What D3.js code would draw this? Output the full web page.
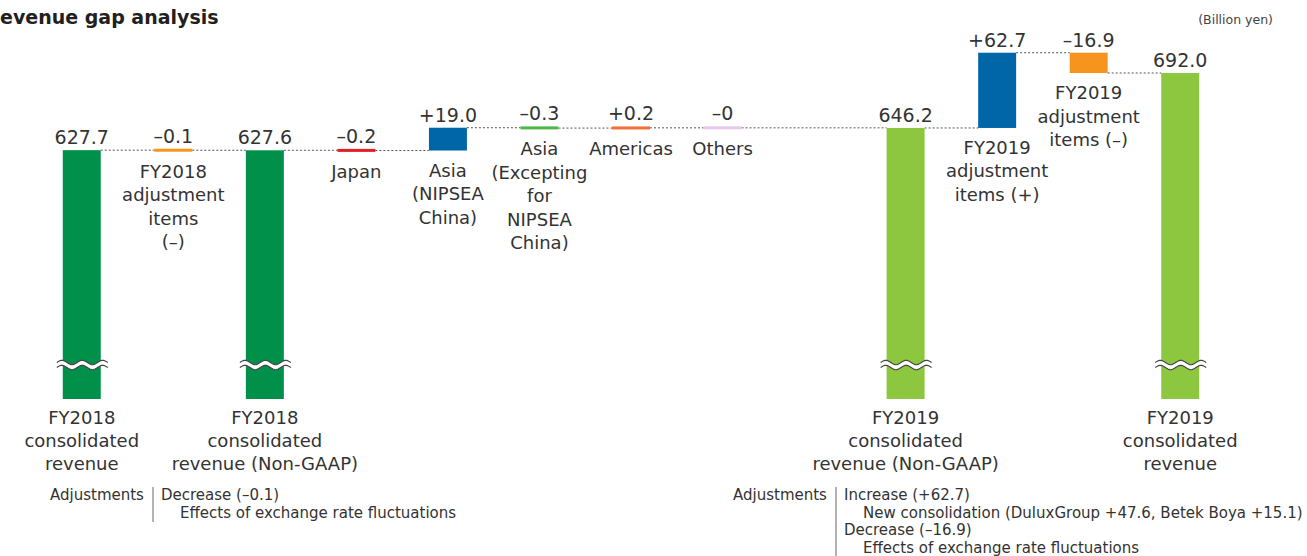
<!DOCTYPE html>
<html>
<head>
<meta charset="utf-8">
<script src="https://cdn.jsdelivr.net/npm/d3@7/dist/d3.min.js"></script>
<style>
  body { margin: 0; background: #fff; }
  svg { display: block; }
  text { font-family: "DejaVu Sans", sans-serif; fill: #333; }
</style>
</head>
<body>
<svg id="chart"></svg>
<script>
// Slots along the x axis (one empty slot before the FY2019 block)
var slots = ["fy18", "adj18", "fy18ng", "japan", "asiaN", "asiaX", "americas", "others",
             "gap", "fy19ng", "adj19p", "adj19m", "fy19"];

// Bars
var barKeys = ["fy18", "adj18", "fy18ng", "japan", "asiaN", "asiaX", "americas", "others",
               "fy19ng", "adj19p", "adj19m", "fy19"];
var barValues = [627.7, -0.1, 627.6, -0.2, 19.0, -0.3, 0.2, -0.0, 646.2, 62.7, -16.9, 692.0];
var barTypes = ["total", "delta", "total", "delta", "delta", "delta", "delta", "delta",
                "total", "delta", "delta", "total"];
var valueLabels = ["627.7", "\u20130.1", "627.6", "\u20130.2", "+19.0", "\u20130.3", "+0.2", "\u20130",
                   "646.2", "+62.7", "\u201316.9", "692.0"];
var categoryLines = [
  ["FY2018", "consolidated", "revenue"],
  ["FY2018", "adjustment", "items", "(\u2013)"],
  ["FY2018", "consolidated", "revenue (Non-GAAP)"],
  ["Japan"],
  ["Asia", "(NIPSEA", "China)"],
  ["Asia", "(Excepting", "for", "NIPSEA", "China)"],
  ["Americas"],
  ["Others"],
  ["FY2019", "consolidated", "revenue (Non-GAAP)"],
  ["FY2019", "adjustment", "items (+)"],
  ["FY2019", "adjustment", "items (\u2013)"],
  ["FY2019", "consolidated", "revenue"]
];
var barColors = ["#00904a", "#f7941d", "#00904a", "#e31e24", "#0066a8", "#4cb848", "#f26f35", "#e6c8e8",
                 "#8dc63f", "#0066a8", "#f7941d", "#8dc63f"];

// Footnotes
var notesLeft = [
  {text: "Decrease (\u20130.1)", indent: 0},
  {text: "Effects of exchange rate fluctuations", indent: 1}
];
var notesRight = [
  {text: "Increase (+62.7)", indent: 0},
  {text: "New consolidation (DuluxGroup +47.6, Betek Boya +15.1)", indent: 1},
  {text: "Decrease (\u201316.9)", indent: 0},
  {text: "Effects of exchange rate fluctuations", indent: 1}
];

var width = 1307, height = 556;
var baseY = 399;     // bottom of the broken total bars
var breakY = 365;    // where the bars are broken

var svg = d3.select("#chart")
    .attr("width", width)
    .attr("height", height);

var x = d3.scaleBand()
    .domain(slots)
    .range([36, 1226])
    .paddingInner(0.585)
    .paddingOuter(0.2925);
var bw = x.bandwidth();

var y = d3.scaleLinear()
    .domain([620, 710])
    .range([159.4, 51.4]);

// Title and unit
svg.append("text")
    .attr("x", 0)
    .attr("y", 24)
    .style("font-weight", "bold")
    .style("font-size", "19px")
    .style("fill", "#231f20")
    .text("evenue gap analysis");

svg.append("text")
    .attr("x", 1273)
    .attr("y", 24)
    .attr("text-anchor", "end")
    .style("font-size", "12.5px")
    .style("fill", "#444")
    .text("(Billion yen)");

// Work out bar geometry (waterfall)
var running = 0;
var bars = barKeys.map(function(k, i) {
  var v = barValues[i], top, bottom, level;
  if (barTypes[i] == "total") {
    top = y(v);
    bottom = baseY;
    level = v;
  } else {
    var start = running, end = running + v;
    top = y(Math.max(start, end));
    bottom = y(Math.min(start, end));
    if (bottom - top < 3) {
      var mid = (top + bottom) / 2;
      top = mid - 1.5;
      bottom = mid + 1.5;
    }
    level = end;
  }
  running = level;
  return {key: k, i: i, top: top, bottom: bottom, level: level};
});

// Dotted connectors
var conn = svg.append("g");
for (var i = 0; i < bars.length - 1; i++) {
  var a = bars[i], b = bars[i + 1];
  conn.append("line")
      .attr("x1", x(a.key) + bw)
      .attr("x2", x(b.key))
      .attr("y1", y(a.level))
      .attr("y2", y(a.level))
      .attr("stroke", "#555")
      .attr("stroke-width", 1)
      .attr("stroke-dasharray", "2,2");
}

// Bars
svg.append("g").selectAll("rect")
    .data(bars)
    .enter()
    .append("rect")
    .attr("x", function(d) { return x(d.key); })
    .attr("y", function(d) { return d.top; })
    .attr("width", bw)
    .attr("height", function(d) { return d.bottom - d.top; })
    .attr("fill", function(d) { return barColors[d.i]; });

// Break marks on the total bars
function wave(x0, x1, y0) {
  var pts = [];
  for (var t = 0; t <= 60; t++) {
    var xx = x0 + (x1 - x0) * t / 60;
    pts.push([xx, y0 - 2.2 * Math.sin((xx - x0) / (x1 - x0) * Math.PI * 5)]);
  }
  return pts;
}
var line = d3.line();
bars.filter(function(d) { return barTypes[d.i] == "total"; }).forEach(function(d) {
  var x0 = x(d.key) - 6, x1 = x(d.key) + bw + 7;
  var upper = wave(x0, x1, breakY - 2.5);
  var lower = wave(x0, x1, breakY + 2.5);
  svg.append("path")
      .attr("d", line(upper.concat(lower.slice().reverse())) + "Z")
      .attr("fill", "#fff");
  svg.append("path").attr("d", line(upper)).attr("fill", "none").attr("stroke", "#444").attr("stroke-width", 1.1);
  svg.append("path").attr("d", line(lower)).attr("fill", "none").attr("stroke", "#444").attr("stroke-width", 1.1);
});

// Value labels
svg.append("g").selectAll("text")
    .data(bars)
    .enter()
    .append("text")
    .attr("x", function(d) { return x(d.key) + bw / 2; })
    .attr("y", function(d) { return d.top - 6; })
    .attr("text-anchor", "middle")
    .style("font-size", "19px")
    .text(function(d) { return valueLabels[d.i]; });

// Category labels
bars.forEach(function(d) {
  var lines = categoryLines[d.i];
  var isTotal = barTypes[d.i] == "total";
  var y0 = isTotal ? 424 : d.bottom + 26;
  var step = isTotal ? 23 : 23.5;
  var t = svg.append("text")
      .attr("text-anchor", "middle")
      .style("font-size", "18px");
  lines.forEach(function(s, j) {
    t.append("tspan")
        .attr("x", x(d.key) + bw / 2)
        .attr("y", y0 + j * step)
        .text(s);
  });
});

// Footnotes
function notes(x0, rows) {
  var g = svg.append("g").style("font-size", "15px");
  g.append("text").attr("x", x0).attr("y", 500).text("Adjustments");
  g.append("line")
      .attr("x1", x0 + 103).attr("x2", x0 + 103)
      .attr("y1", 487).attr("y2", 487 + rows.length * 17.5)
      .attr("stroke", "#666").attr("stroke-width", 1);
  rows.forEach(function(r, j) {
    g.append("text")
        .attr("x", x0 + 111 + r.indent * 19)
        .attr("y", 500 + j * 17.7)
        .text(r.text);
  });
}
notes(50, notesLeft);
notes(733, notesRight);
</script>
</body>
</html>
